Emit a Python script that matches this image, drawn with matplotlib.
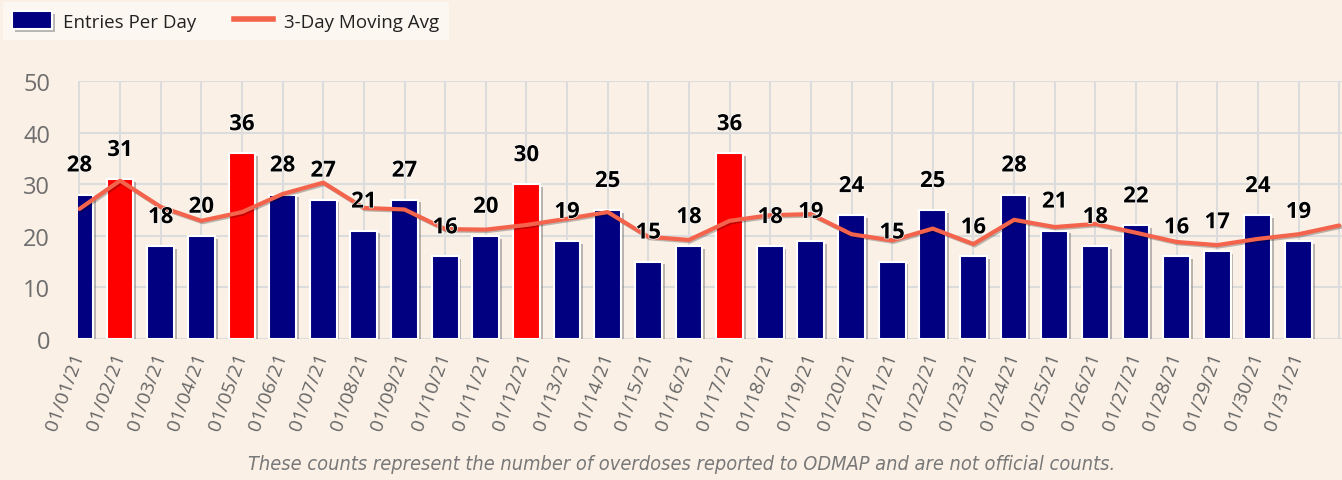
import numpy as np
import matplotlib
matplotlib.use("Agg")
import matplotlib.pyplot as plt
import matplotlib.patheffects as pe
from matplotlib.patches import Patch
from matplotlib.lines import Line2D

# data
dates = ["01/%02d/21" % d for d in range(1, 32)]
entries = [28, 31, 18, 20, 36, 28, 27, 21, 27, 16, 20, 30, 19, 25, 15, 18,
           36, 18, 19, 24, 15, 25, 16, 28, 21, 18, 22, 16, 17, 24, 19]
# moving average carries on one day past the last bar (cut off at the edge)
moving_avg = [25.2, 30.7, 25.6, 22.9, 24.6, 28.1, 30.3, 25.4, 25.1, 21.3,
              21.2, 22.1, 23.3, 24.6, 19.8, 19.2, 22.9, 24.0, 24.2, 20.3,
              19.1, 21.4, 18.4, 23.1, 21.7, 22.3, 20.6, 18.8, 18.2, 19.4,
              20.3, 22.0]
highlight_at = 30

BG = "#faf0e6"
NAVY = "#000080"
RED = "#ff0000"
LINE = "#f4634b"
GRID = "#dcdcdc"

plt.rcParams["font.family"] = ["Open Sans", "DejaVu Sans"]

fig = plt.figure(figsize=(13.42, 4.81), dpi=100, facecolor=BG)
ax = fig.add_axes([78 / 1342, 141 / 481, 1 - 78 / 1342, 258 / 481])
ax.set_facecolor(BG)

x = np.arange(len(entries))
colors = [RED if v >= highlight_at else NAVY for v in entries]
shadow = [pe.SimplePatchShadow(offset=(2, -2), shadow_rgbFace="#777777", alpha=0.5),
          pe.Normal()]
bars = ax.bar(x, entries, width=0.66, color=colors, edgecolor="white",
              linewidth=1.5, zorder=3)
for b in bars:
    b.set_path_effects(shadow)

xl = np.arange(len(moving_avg))
ax.plot(xl, moving_avg, color=LINE, lw=3, zorder=4, solid_capstyle="round",
        path_effects=[pe.SimpleLineShadow(offset=(1, -1), alpha=0.25), pe.Normal()])

for xi, v in zip(x, entries):
    ax.annotate(str(v), (xi, v), xytext=(0, 13), textcoords="offset points",
                ha="center", va="bottom", fontsize=16, fontweight="bold",
                color="black", zorder=6,
                path_effects=[pe.withStroke(linewidth=1, foreground="white")])

ax.set_ylim(0, 50)
ax.set_xlim(-0.035, 31.07)
ax.set_yticks(range(0, 51, 10))
ax.set_xticks(xl)
ax.set_xticklabels(dates + [""], rotation=70, ha="right", va="center",
                   rotation_mode="anchor")
ax.tick_params(axis="x", length=0, pad=10, labelsize=14, labelcolor="#666666")
ax.tick_params(axis="y", length=0, pad=20, labelsize=17, labelcolor="#6e6e6e")
ax.grid(True, color=GRID, lw=1.5, zorder=0)
ax.set_axisbelow(True)
for s in ax.spines.values():
    s.set_visible(False)

handles = [Patch(facecolor=NAVY, edgecolor="white", linewidth=1.5,
                 path_effects=shadow),
           Line2D([0], [0], color=LINE, lw=4)]
leg = fig.legend(handles, ["Entries Per Day", "3-Day Moving Avg"],
                 loc="upper left", bbox_to_anchor=(3 / 1342, 1 - 3 / 481),
                 ncol=2, frameon=True, fancybox=False, fontsize=13.5,
                 handlelength=2.1, handleheight=1.1, handletextpad=0.6,
                 columnspacing=2.0, borderpad=0.5, borderaxespad=0)
leg.get_frame().set_facecolor("#fdf9f5")
leg.get_frame().set_edgecolor("none")
for t in leg.get_texts():
    t.set_color("#222222")

fig.text(682 / 1342, 1 - 465 / 481,
         "These counts represent the number of overdoses reported to ODMAP and are not official counts.",
         ha="center", va="center", fontsize=14.3, style="italic", color="#787878",
         family=["DejaVu Sans"], stretch="condensed")

fig.savefig("out.png", dpi=100, facecolor=BG)
